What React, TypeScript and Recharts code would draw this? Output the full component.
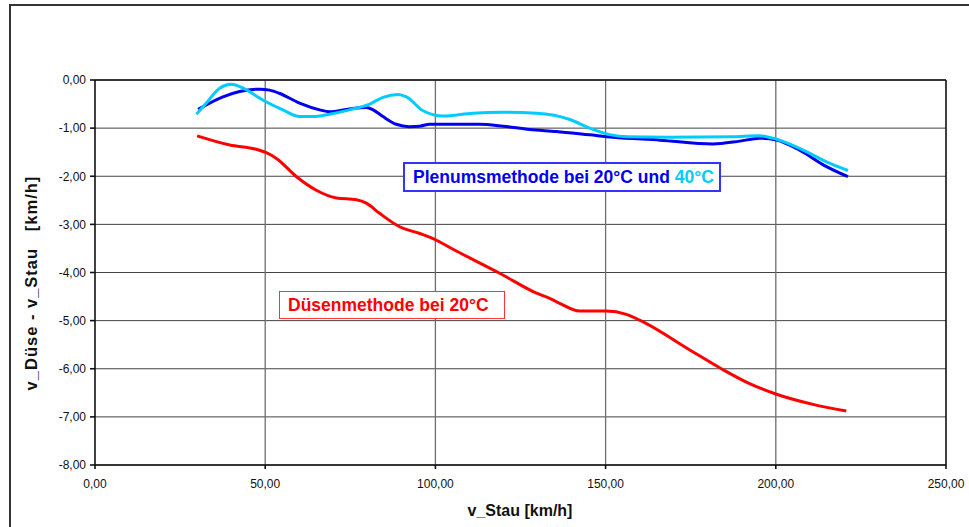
import React from 'react';
import { LineChart, Line, XAxis, YAxis, CartesianGrid, ReferenceLine } from 'recharts';

// v_Stau [km/h] and v_Düse - v_Stau [km/h]
const duesenX = [30, 39.6, 47.4, 50.3, 53.3, 59.2, 65, 70.9, 76.8, 79.7, 83.6, 89.5, 95.4, 100.3, 104.2, 119, 129.7, 133.6, 136.5, 142.4, 150.2, 156.1, 160, 175, 184.5, 192.3, 200.2, 210.9, 220.7];
const duesenY = [-1.16, -1.35, -1.44, -1.51, -1.63, -2.01, -2.29, -2.45, -2.49, -2.56, -2.77, -3.05, -3.19, -3.33, -3.48, -4.02, -4.43, -4.54, -4.64, -4.8, -4.8, -4.87, -4.99, -5.62, -6.02, -6.31, -6.53, -6.74, -6.88];

const plenum20X = [30.3, 37.6, 42.5, 48.4, 51.3, 54.3, 60.1, 66, 68.9, 74.8, 79.7, 81.7, 84.6, 88.5, 92.4, 95.4, 98.3, 113, 119.9, 127.7, 135.5, 145.3, 152.2, 166, 181.5, 189.4, 195.3, 200.2, 207, 214.9, 221.2];
const plenum20Y = [-0.61, -0.35, -0.24, -0.19, -0.21, -0.28, -0.48, -0.62, -0.66, -0.6, -0.57, -0.62, -0.76, -0.92, -0.97, -0.96, -0.92, -0.92, -0.96, -1.03, -1.07, -1.14, -1.19, -1.25, -1.33, -1.27, -1.21, -1.25, -1.46, -1.8, -2.01];

const plenum40X = [29.8, 32.7, 36.6, 40.1, 43.5, 49.4, 55.2, 60.1, 64, 68.9, 74.8, 80.7, 84.6, 89, 91.5, 96.4, 102.2, 111, 119.9, 129.7, 139.5, 145.3, 151.5, 156.4, 167.9, 187.4, 195.3, 200.2, 207, 214.9, 221.2];
const plenum40Y = [-0.71, -0.48, -0.17, -0.09, -0.17, -0.42, -0.62, -0.76, -0.76, -0.71, -0.62, -0.5, -0.36, -0.3, -0.35, -0.64, -0.75, -0.69, -0.67, -0.69, -0.82, -1.0, -1.14, -1.18, -1.19, -1.18, -1.16, -1.23, -1.42, -1.7, -1.88];

const xTicks = [0, 50, 100, 150, 200, 250];
const yTicks = [0, -1, -2, -3, -4, -5, -6, -7, -8];

const toPoints = (xs: number[], ys: number[]) => xs.map((x, i) => ({ x, y: ys[i] }));
const fmt = (v: number) => v.toFixed(2).replace('.', ',');

const FONT = '"Liberation Sans", Arial, sans-serif';

export default function App() {
  const tickStyle = { fontSize: 12, fill: '#111', fontFamily: FONT };

  return (
    <div style={{ position: 'absolute', left: 0, top: 0, width: 969, height: 527, background: '#fff', overflow: 'hidden', fontFamily: FONT }}>
      {/* outer frame */}
      <div style={{ position: 'absolute', left: 9, top: 4, width: 1000, height: 600, borderTop: '2px solid #333', borderLeft: '2px solid #333' }} />

      <LineChart width={969} height={527} margin={{ top: 80, right: 23, bottom: 22, left: 10 }}>
        <CartesianGrid stroke="#444" strokeWidth={1} vertical={false} />
        {xTicks.slice(1, -1).map((t) => (
          <ReferenceLine key={t} x={t} stroke="#6e6e6e" strokeWidth={1.3} />
        ))}
        <ReferenceLine y={0} stroke="#111" strokeWidth={1.6} />
        <ReferenceLine x={250} stroke="#111" strokeWidth={1.6} />
        <XAxis
          type="number"
          dataKey="x"
          domain={[0, 250]}
          ticks={xTicks}
          interval={0}
          tickFormatter={fmt}
          tick={tickStyle}
          tickSize={4}
          tickMargin={10}
          stroke="#111"
          strokeWidth={1.6}
          height={40}
          allowDuplicatedCategory={false}
        />
        <YAxis
          type="number"
          domain={[-8, 0]}
          ticks={yTicks}
          interval={0}
          tickFormatter={fmt}
          tick={tickStyle}
          tickSize={5}
          tickMargin={4}
          stroke="#111"
          strokeWidth={1.6}
          width={85}
        />
        <Line data={toPoints(plenum20X, plenum20Y)} dataKey="y" type="monotone" stroke="#0000ee" strokeWidth={3} dot={false} isAnimationActive={false} />
        <Line data={toPoints(plenum40X, plenum40Y)} dataKey="y" type="monotone" stroke="#00ccff" strokeWidth={3} dot={false} isAnimationActive={false} />
        <Line data={toPoints(duesenX, duesenY)} dataKey="y" type="monotone" stroke="#ff0000" strokeWidth={3} dot={false} isAnimationActive={false} />
      </LineChart>

      {/* series labels */}
      <div style={{ position: 'absolute', left: 403, top: 162, width: 314, height: 26, border: '2px solid #3333ff', background: '#fff', boxSizing: 'content-box', fontWeight: 'bold', fontSize: 17.5, lineHeight: '26px', color: '#0000ee', whiteSpace: 'nowrap' }}>
        <span style={{ marginLeft: 8 }}>Plenumsmethode bei 20°C und </span>
        <span style={{ color: '#00ccff' }}>40°C</span>
      </div>
      <div style={{ position: 'absolute', left: 279, top: 291, width: 224, height: 26, border: '1.5px solid #ff3333', background: '#fff', fontWeight: 'bold', fontSize: 17.5, lineHeight: '26px', color: '#ff0000', whiteSpace: 'nowrap' }}>
        <span style={{ marginLeft: 8 }}>Düsenmethode bei 20°C</span>
      </div>

      {/* axis titles */}
      <div style={{ position: 'absolute', left: 420, top: 502, width: 200, textAlign: 'center', fontWeight: 'bold', fontSize: 16, color: '#111', whiteSpace: 'nowrap' }}>
        v_Stau [km/h]
      </div>
      <div style={{ position: 'absolute', left: 31, top: 283, width: 0, height: 0 }}>
        <div style={{ position: 'absolute', left: -160, top: -10, width: 320, textAlign: 'center', transform: 'rotate(-90deg)', fontWeight: 'bold', fontSize: 16.5, letterSpacing: 1, color: '#111', whiteSpace: 'pre', lineHeight: '20px' }}>
          {'v_Düse - v_Stau   [km/h]'}
        </div>
      </div>
    </div>
  );
}
